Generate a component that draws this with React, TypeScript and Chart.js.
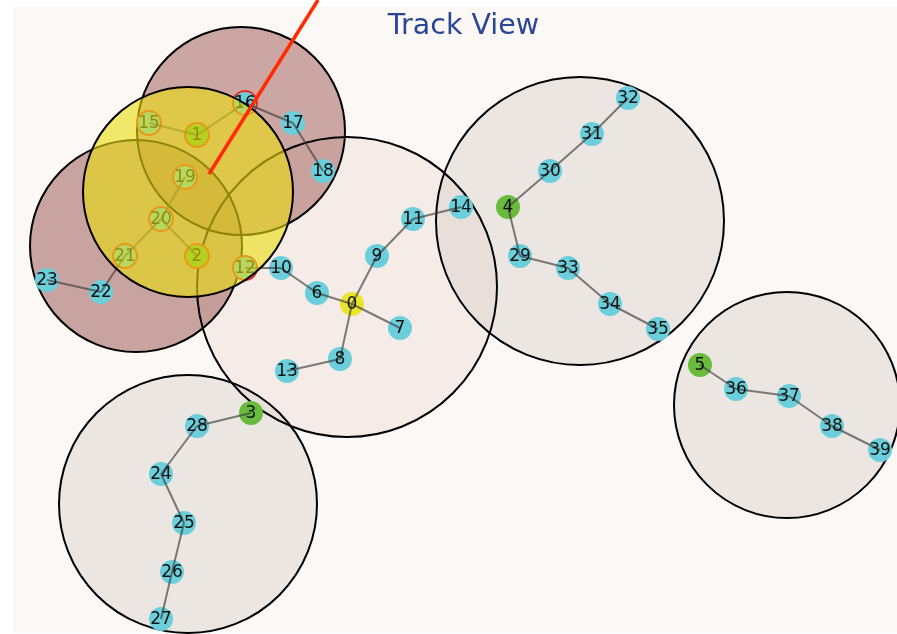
import React, { useEffect, useRef } from 'react';
import { Chart, registerables } from 'chart.js';

Chart.register(...registerables);

const TITLE = 'Track View';

// node ids and positions (pixel-like units, y grows downward)
const nodeIds = [
  0, 1, 2, 3, 4, 5, 6, 7, 8, 9, 10, 11, 12, 13, 14, 15, 16, 17, 18, 19,
  20, 21, 22, 23, 24, 25, 26, 27, 28, 29, 30, 31, 32, 33, 34, 35, 36, 37, 38, 39,
];
const nodeX = [
  352, 197, 197, 251, 508, 700, 317, 400, 340, 377, 281, 413, 245, 287, 461, 149, 245, 293, 323, 185,
  161, 125, 101, 47, 161, 184, 172, 161, 197, 520, 550, 592, 628, 568, 610, 658, 736, 789, 832, 880,
];
const nodeY = [
  304, 135, 256, 413, 207, 365, 293, 328, 359, 256, 268, 219, 268, 371, 207, 123, 103, 123, 171, 177,
  219, 256, 292, 280, 474, 523, 572, 619, 426, 256, 171, 134, 98, 268, 304, 329, 389, 396, 426, 450,
];
const rootNodes = [1, 2, 3, 4, 5];
const activeNodes = [0];
const selectedNodes = [1, 2, 12, 15, 16, 19, 20, 21];

const edgeFrom = [16, 17, 16, 1, 19, 20, 20, 21, 22, 12, 10, 6, 0, 0, 9, 11, 0, 8, 4, 30, 31, 4, 29, 33, 34, 3, 28, 24, 25, 26, 5, 36, 37, 38];
const edgeTo = [17, 18, 1, 15, 20, 21, 2, 22, 23, 10, 6, 0, 7, 9, 11, 14, 8, 13, 30, 31, 32, 29, 33, 34, 35, 28, 24, 25, 26, 27, 36, 37, 38, 39];

// track zones (centre and radius)
const zoneX = [347, 580, 787, 188, 241, 136];
const zoneY = [287, 221, 405, 504, 131, 246];
const zoneR = [150, 144, 113, 129, 104, 106];

// highlighted focus zone
const focusX = [188];
const focusY = [192];
const focusR = [105];

// pointer line
const pointerX = [209, 318];
const pointerY = [174, 0];

const zoneColors = [
  'rgba(238,222,218,0.5)',
  'rgba(220,212,208,0.5)',
  'rgba(220,212,208,0.5)',
  'rgba(220,212,208,0.5)',
  'rgba(172,112,108,0.6)',
  'rgba(166,106,102,0.6)',
];

const EDGE_DATASET = 3;

export default function App() {
  const ref = useRef<HTMLCanvasElement>(null);

  useEffect(() => {
    const canvas = ref.current;
    if (!canvas) return;

    const nodeColor = nodeIds.map((id) =>
      activeNodes.includes(id) ? '#e8e52c' : rootNodes.includes(id) ? '#69bb3e' : '#6bcedb'
    );
    const nodeBorder = nodeIds.map((id) => (selectedNodes.includes(id) ? '#e8302a' : 'rgba(0,0,0,0)'));
    const nodeBorderW = nodeIds.map((id) => (selectedNodes.includes(id) ? 2 : 0));

    const edgeData: { x: number | null; y: number | null }[] = [];
    edgeFrom.forEach((a, i) => {
      const b = edgeTo[i];
      edgeData.push({ x: nodeX[a], y: nodeY[a] });
      edgeData.push({ x: nodeX[b], y: nodeY[b] });
      edgeData.push({ x: null, y: null });
    });

    const zonePoints = zoneX.map((x, i) => ({ x, y: zoneY[i], r: zoneR[i] }));

    const bgPlugin = {
      id: 'panelBg',
      beforeDraw(chart: any) {
        const { ctx, chartArea } = chart;
        ctx.save();
        ctx.fillStyle = '#fcf8f5';
        ctx.fillRect(chartArea.left, chartArea.top, chartArea.right - chartArea.left, chartArea.bottom - chartArea.top);
        ctx.restore();
      },
    };

    const labelPlugin = {
      id: 'nodeLabels',
      afterDatasetDraw(chart: any, args: any) {
        if (args.index !== EDGE_DATASET) return;
        const { ctx, scales } = chart;
        ctx.save();
        ctx.font = '17px "DejaVu Sans"';
        ctx.fillStyle = '#111111';
        ctx.textAlign = 'center';
        ctx.textBaseline = 'middle';
        nodeIds.forEach((id, i) => {
          const px = scales.x.getPixelForValue(nodeX[i]);
          const py = scales.y.getPixelForValue(nodeY[i]);
          ctx.fillText(String(id), px, py + 1);
        });
        ctx.restore();
      },
    };

    const titlePlugin = {
      id: 'trackTitle',
      afterDraw(chart: any) {
        const { ctx } = chart;
        ctx.save();
        ctx.font = '28.5px "DejaVu Sans"';
        ctx.fillStyle = '#2b4597';
        ctx.textAlign = 'center';
        ctx.textBaseline = 'alphabetic';
        ctx.fillText(TITLE, 463.5, 34);
        ctx.restore();
      },
    };

    const chart = new Chart(canvas, {
      type: 'scatter',
      data: {
        datasets: [
          {
            type: 'bubble',
            data: zonePoints,
            backgroundColor: zoneColors,
            borderWidth: 0,
            order: 60,
            clip: false,
          } as any,
          {
            type: 'bubble',
            data: zonePoints,
            backgroundColor: 'rgba(0,0,0,0)',
            borderColor: '#000000',
            borderWidth: 2,
            order: 50,
            clip: false,
          } as any,
          {
            type: 'scatter',
            data: nodeIds.map((_, i) => ({ x: nodeX[i], y: nodeY[i] })),
            pointRadius: 12,
            pointBackgroundColor: nodeColor,
            pointBorderColor: nodeBorder,
            pointBorderWidth: nodeBorderW,
            order: 40,
            clip: false,
          } as any,
          {
            type: 'line',
            data: edgeData,
            borderColor: 'rgba(60,60,60,0.65)',
            borderWidth: 2,
            pointRadius: 0,
            fill: false,
            spanGaps: false,
            tension: 0,
            order: 30,
            clip: false,
          } as any,
          {
            type: 'bubble',
            data: focusX.map((x, i) => ({ x, y: focusY[i], r: focusR[i] })),
            backgroundColor: 'rgba(234,221,13,0.6)',
            borderColor: '#000000',
            borderWidth: 2,
            order: 20,
            clip: false,
          } as any,
          {
            type: 'line',
            data: pointerX.map((x, i) => ({ x, y: pointerY[i] })),
            borderColor: '#ff2a00',
            borderWidth: 3.5,
            pointRadius: 0,
            fill: false,
            order: 10,
            clip: false,
          } as any,
        ],
      },
      options: {
        responsive: false,
        animation: false,
        events: [],
        layout: { autoPadding: false, padding: { left: 13, top: 7, right: 0, bottom: 1 } },
        scales: {
          x: { type: 'linear', min: 13, max: 897, display: false },
          y: { type: 'linear', min: 7, max: 633, reverse: true, display: false },
        },
        plugins: {
          legend: { display: false },
          tooltip: { enabled: false },
          title: { display: false },
        },
      },
      plugins: [bgPlugin, labelPlugin, titlePlugin],
    } as any);

    return () => chart.destroy();
  }, []);

  return (
    <div style={{ position: 'absolute', left: 0, top: 0, width: 897, height: 634 }}>
      <canvas ref={ref} width={897} height={634} style={{ display: 'block' }} />
    </div>
  );
}
